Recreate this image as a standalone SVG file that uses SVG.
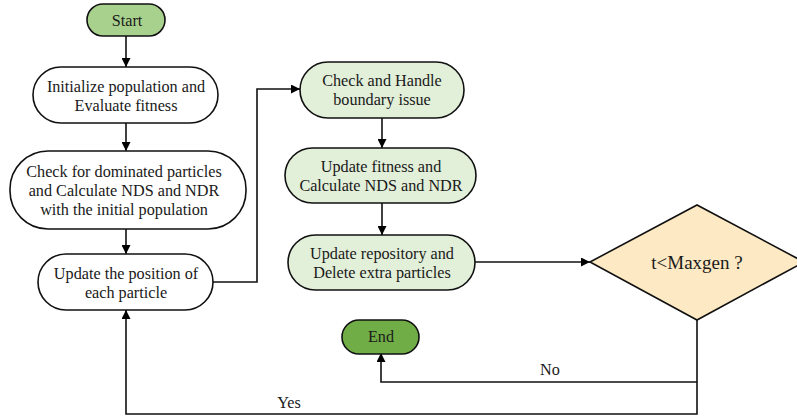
<svg xmlns="http://www.w3.org/2000/svg" width="797" height="419" viewBox="0 0 797 419" font-family="'Liberation Serif', 'Times New Roman', Times, serif">
<defs>
<marker id="arr" viewBox="0 0 10 10" refX="10" refY="5" markerWidth="9" markerHeight="9" markerUnits="userSpaceOnUse" orient="auto">
<path d="M0,0 L10,5 L0,10 z" fill="#000"/>
</marker>
<style>
.box{stroke:#111;stroke-width:1.6}
.white{fill:#fff}
.lg{fill:#e2efd9}
.sg{fill:#a9d18e}
.eg{fill:#70ad47}
.dm{fill:#fde9c3}
text{font-size:16.2px;fill:#1a1a1a;text-anchor:middle}
.ln{fill:none;stroke:#111;stroke-width:1.6}
</style>
</defs>
<g id="connectors">
<path class="ln" d="M126,36 V67" marker-end="url(#arr)"/>
<path class="ln" d="M126,123 V151" marker-end="url(#arr)"/>
<path class="ln" d="M126,229 V254" marker-end="url(#arr)"/>
<path class="ln" d="M213,282 H257 V89 H300" marker-end="url(#arr)"/>
<path class="ln" d="M382,118 V148" marker-end="url(#arr)"/>
<path class="ln" d="M382,203 V235" marker-end="url(#arr)"/>
<path class="ln" d="M475,262 H590" marker-end="url(#arr)"/>
<path class="ln" d="M697,320 V414 H126 V310" marker-end="url(#arr)"/>
<path class="ln" d="M697,382 H381 V353" marker-end="url(#arr)"/>
<text x="550" y="375">No</text>
<text x="289" y="408">Yes</text>
</g>
<g id="start">
<rect class="box sg" x="87" y="4" width="78" height="32" rx="16"/>
<text x="127" y="26">Start</text>
</g>
<g id="init">
<rect class="box white" x="33" y="67" width="185" height="56" rx="28"/>
<text x="126" y="92">Initialize population and</text>
<text x="126" y="111">Evaluate fitness</text>
</g>
<g id="check">
<rect class="box white" x="10" y="151" width="236" height="78" rx="38"/>
<text x="124" y="177">Check for dominated particles</text>
<text x="124" y="196">and Calculate NDS and NDR</text>
<text x="124" y="215">with the initial population</text>
</g>
<g id="update-pos">
<rect class="box white" x="38" y="254" width="175" height="56" rx="28"/>
<text x="126" y="279">Update the position of</text>
<text x="126" y="298">each particle</text>
</g>
<g id="boundary">
<rect class="box lg" x="300" y="62" width="164" height="56" rx="28"/>
<text x="382" y="86">Check and Handle</text>
<text x="382" y="105">boundary issue</text>
</g>
<g id="fitness">
<rect class="box lg" x="285" y="148" width="191" height="55" rx="27.5"/>
<text x="381" y="172">Update fitness and</text>
<text x="381" y="191">Calculate NDS and NDR</text>
</g>
<g id="repository">
<rect class="box lg" x="288" y="235" width="187" height="55" rx="27.5"/>
<text x="382" y="259">Update repository and</text>
<text x="382" y="278">Delete extra particles</text>
</g>
<g id="decision">
<polygon class="box dm" points="590,262 697,205 804,262 697,320"/>
<text x="697" y="269" style="font-size:19px">t&lt;Maxgen ?</text>
</g>
<g id="end">
<rect class="box eg" x="342" y="320" width="77" height="34" rx="17"/>
<text x="381" y="342">End</text>
</g>
</svg>
